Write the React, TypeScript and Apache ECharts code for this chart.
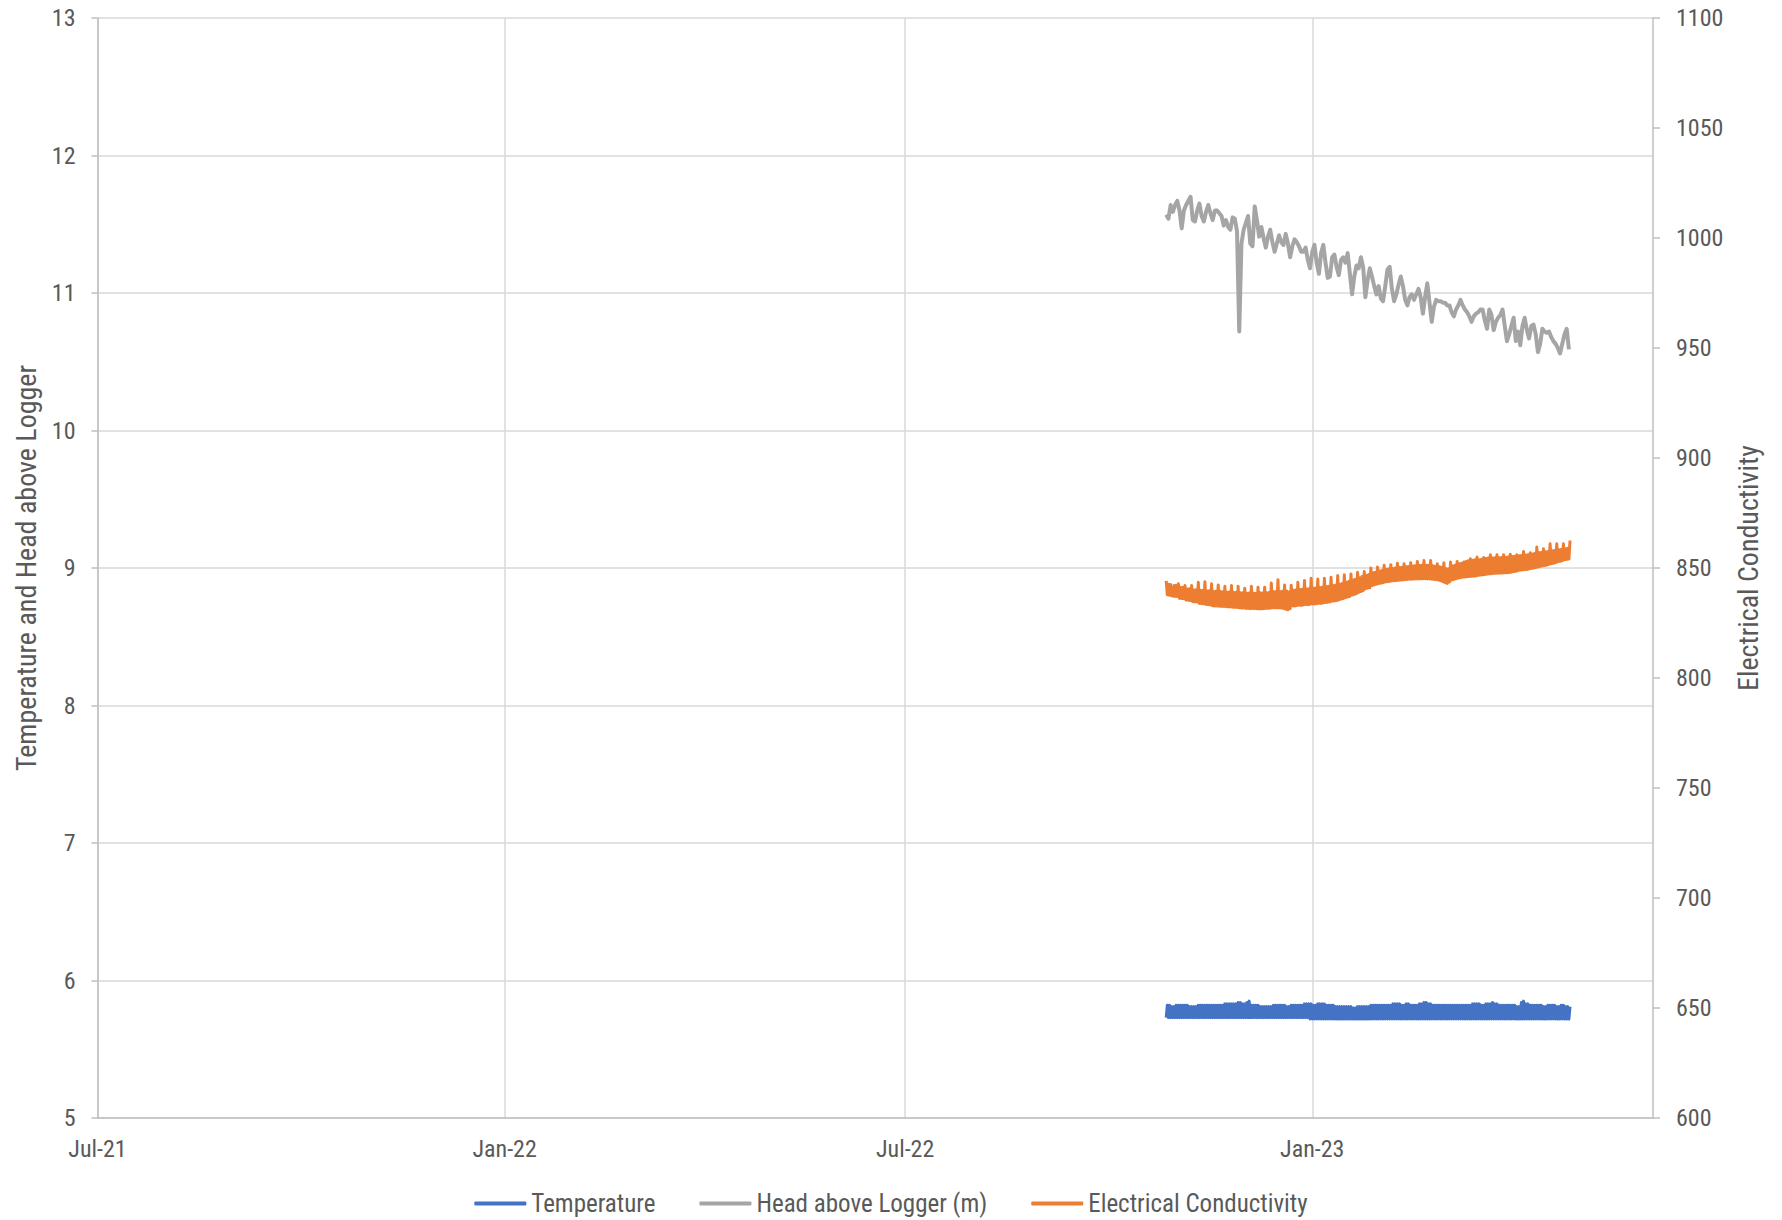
import React, { useEffect, useRef } from "react";
import * as echarts from "echarts";

// ---------- axis ranges & ticks ----------
const X_MIN = Date.UTC(2021, 6, 1);
const X_MAX = Date.UTC(2023, 5, 4);
const xTickDates = [Date.UTC(2021, 6, 1), Date.UTC(2022, 0, 1), Date.UTC(2022, 6, 1), Date.UTC(2023, 0, 1)];
const xTickLabels = ["Jul-21", "Jan-22", "Jul-22", "Jan-23"];

const leftMin = 5;
const leftMax = 13;
const leftInterval = 1;
const rightMin = 600;
const rightMax = 1100;
const rightInterval = 50;

const seriesNames = ["Temperature", "Head above Logger (m)", "Electrical Conductivity"];
const seriesColors = ["#4472C4", "#A5A5A5", "#ED7D31"];

// logger record starts 27 Oct 2022
const seriesStart = Date.UTC(2022, 9, 27);
const DAY = 86400000;
const HALF_DAY = DAY / 2;

// Head above logger (m), daily readings
const headValues = [
  11.57, 11.54, 11.64, 11.59, 11.64, 11.67, 11.6, 11.47, 11.6, 11.64,
  11.67, 11.7, 11.53, 11.52, 11.6, 11.65, 11.56, 11.52, 11.59, 11.64,
  11.58, 11.53, 11.6, 11.6, 11.58, 11.56, 11.49, 11.53, 11.48, 11.46,
  11.55, 11.54, 11.45, 10.72, 11.36, 11.46, 11.51, 11.56, 11.36, 11.34,
  11.63, 11.53, 11.41, 11.48, 11.4, 11.33, 11.41, 11.46, 11.37, 11.3,
  11.36, 11.42, 11.37, 11.35, 11.43, 11.36, 11.26, 11.34, 11.39, 11.37,
  11.34, 11.3, 11.3, 11.33, 11.24, 11.18, 11.3, 11.35, 11.22, 11.14,
  11.29, 11.35, 11.22, 11.11, 11.12, 11.26, 11.28, 11.19, 11.13, 11.24,
  11.26, 11.22, 11.29, 11.14, 10.99, 11.12, 11.2, 11.18, 11.26, 11.19,
  10.97, 11.09, 11.18, 11.12, 11.05, 10.99, 11.05, 10.96, 10.94, 11.05,
  11.17, 11.19, 11.03, 10.94, 10.99, 11.06, 11.12, 11.05, 10.95, 10.91,
  10.97, 10.99, 10.95, 10.99, 11.03, 10.97, 10.85, 10.97, 11.07, 10.93,
  10.79, 10.9, 10.95, 10.94, 10.94, 10.93, 10.93, 10.91, 10.91, 10.86,
  10.83, 10.88, 10.91, 10.95, 10.91, 10.88, 10.86, 10.83, 10.79, 10.83,
  10.85, 10.86, 10.88, 10.88, 10.8, 10.74, 10.88, 10.84, 10.73, 10.79,
  10.82, 10.84, 10.88, 10.76, 10.65, 10.7, 10.76, 10.82, 10.65, 10.72,
  10.62, 10.76, 10.82, 10.73, 10.67, 10.76, 10.77, 10.7, 10.57, 10.63,
  10.74, 10.72, 10.71, 10.72, 10.68, 10.65, 10.63, 10.6, 10.56, 10.63,
  10.7, 10.74, 10.59,
];

// Temperature, 12-hourly readings
const temperatureValues = [
  5.73, 5.82, 5.73, 5.82, 5.73, 5.81, 5.73, 5.81, 5.73, 5.82, 5.73, 5.82, 5.73, 5.82, 5.73, 5.82, 5.73, 5.82, 5.73, 5.82,
  5.73, 5.81, 5.73, 5.81, 5.73, 5.81, 5.73, 5.81, 5.73, 5.82, 5.73, 5.82, 5.73, 5.82, 5.73, 5.82, 5.73, 5.82, 5.73, 5.82,
  5.73, 5.82, 5.73, 5.82, 5.73, 5.82, 5.73, 5.82, 5.73, 5.82, 5.73, 5.82, 5.73, 5.83, 5.73, 5.83, 5.73, 5.83, 5.73, 5.83,
  5.73, 5.83, 5.73, 5.83, 5.73, 5.84, 5.73, 5.84, 5.73, 5.83, 5.73, 5.83, 5.73, 5.84, 5.73, 5.85, 5.73, 5.82, 5.73, 5.82,
  5.73, 5.82, 5.73, 5.82, 5.73, 5.81, 5.73, 5.81, 5.73, 5.81, 5.73, 5.81, 5.73, 5.81, 5.73, 5.81, 5.73, 5.82, 5.73, 5.82,
  5.73, 5.82, 5.73, 5.82, 5.73, 5.82, 5.73, 5.82, 5.73, 5.81, 5.73, 5.81, 5.73, 5.82, 5.73, 5.82, 5.73, 5.82, 5.73, 5.82,
  5.73, 5.82, 5.73, 5.82, 5.73, 5.83, 5.73, 5.83, 5.73, 5.83, 5.72, 5.83, 5.72, 5.82, 5.72, 5.82, 5.72, 5.83, 5.72, 5.83,
  5.72, 5.83, 5.72, 5.83, 5.72, 5.82, 5.72, 5.82, 5.72, 5.82, 5.72, 5.82, 5.72, 5.81, 5.72, 5.81, 5.72, 5.81, 5.72, 5.81,
  5.72, 5.81, 5.72, 5.81, 5.72, 5.81, 5.72, 5.81, 5.72, 5.8, 5.72, 5.8, 5.72, 5.81, 5.72, 5.81, 5.72, 5.81, 5.72, 5.81,
  5.72, 5.81, 5.72, 5.81, 5.72, 5.82, 5.72, 5.82, 5.72, 5.82, 5.72, 5.82, 5.72, 5.82, 5.72, 5.82, 5.72, 5.82, 5.72, 5.82,
  5.72, 5.82, 5.72, 5.82, 5.72, 5.83, 5.72, 5.83, 5.72, 5.83, 5.72, 5.83, 5.72, 5.82, 5.72, 5.82, 5.72, 5.83, 5.72, 5.83,
  5.72, 5.82, 5.72, 5.82, 5.72, 5.82, 5.72, 5.82, 5.72, 5.83, 5.72, 5.83, 5.72, 5.84, 5.72, 5.84, 5.72, 5.83, 5.72, 5.83,
  5.72, 5.82, 5.72, 5.82, 5.72, 5.82, 5.72, 5.82, 5.72, 5.82, 5.72, 5.82, 5.72, 5.82, 5.72, 5.82, 5.72, 5.82, 5.72, 5.82,
  5.72, 5.82, 5.72, 5.82, 5.72, 5.82, 5.72, 5.82, 5.72, 5.82, 5.72, 5.82, 5.72, 5.82, 5.72, 5.82, 5.72, 5.83, 5.72, 5.83,
  5.72, 5.83, 5.72, 5.83, 5.72, 5.82, 5.72, 5.82, 5.72, 5.83, 5.72, 5.83, 5.72, 5.83, 5.72, 5.84, 5.72, 5.83, 5.72, 5.83,
  5.72, 5.82, 5.72, 5.82, 5.72, 5.82, 5.72, 5.82, 5.72, 5.82, 5.72, 5.82, 5.72, 5.82, 5.72, 5.82, 5.72, 5.81, 5.72, 5.81,
  5.72, 5.84, 5.72, 5.85, 5.72, 5.83, 5.72, 5.83, 5.72, 5.82, 5.72, 5.82, 5.72, 5.82, 5.72, 5.82, 5.72, 5.82, 5.72, 5.82,
  5.72, 5.81, 5.72, 5.81, 5.72, 5.82, 5.72, 5.82, 5.72, 5.82, 5.72, 5.82, 5.72, 5.81, 5.72, 5.81, 5.72, 5.82, 5.72, 5.82,
  5.72, 5.81, 5.72, 5.81, 5.72, 5.81,
];

// Electrical conductivity, 12-hourly readings
const ecValues = [
  844.1, 837.8, 842.6, 837.6, 842.5, 837.5,
  837.2, 842.0, 837.1, 842.1, 837.0, 842.8,
  836.2, 841.1, 836.1, 841.2, 836.0, 842.0,
  835.4, 840.5, 835.3, 840.6, 835.2, 842.0,
  834.7, 840.0, 834.6, 840.1, 834.5, 843.5,
  833.9, 839.9, 833.8, 839.8, 833.7, 843.8,
  833.4, 839.6, 833.3, 839.7, 833.2, 842.8,
  832.8, 839.3, 832.7, 839.4, 832.7, 842.3,
  832.6, 839.3, 832.5, 839.2, 832.5, 841.7,
  832.4, 839.0, 832.3, 839.1, 832.3, 842.0,
  832.2, 839.0, 832.1, 838.9, 832.1, 841.7,
  831.9, 838.7, 831.8, 838.8, 831.8, 840.8,
  831.6, 838.5, 831.6, 838.6, 831.5, 841.7,
  831.6, 838.5, 831.5, 838.5, 831.5, 841.3,
  831.4, 838.7, 831.4, 838.6, 831.5, 841.3,
  831.6, 838.8, 831.6, 838.9, 831.7, 843.2,
  831.9, 839.3, 831.9, 839.2, 831.9, 844.7,
  831.9, 839.3, 831.8, 839.4, 831.6, 842.3,
  831.3, 839.6, 831.0, 839.1, 831.5, 842.2,
  832.8, 839.9, 832.7, 840.0, 832.9, 843.5,
  833.1, 840.2, 833.0, 840.3, 833.2, 844.3,
  833.4, 840.5, 833.3, 840.6, 833.5, 845.3,
  833.7, 840.8, 833.6, 840.9, 833.8, 845.0,
  833.9, 841.1, 833.9, 841.3, 834.1, 845.3,
  834.3, 841.6, 834.4, 841.7, 834.6, 845.8,
  834.9, 842.0, 835.0, 842.2, 835.2, 846.6,
  835.5, 842.6, 835.8, 842.9, 836.1, 846.9,
  836.5, 843.5, 836.8, 843.9, 837.1, 847.3,
  837.7, 844.6, 838.0, 844.9, 838.3, 848.1,
  838.9, 845.6, 839.3, 846.1, 839.7, 848.4,
  840.5, 846.6, 840.8, 847.0, 841.0, 850.0,
  842.0, 847.8, 842.3, 848.1, 842.6, 850.4,
  842.9, 848.6, 843.1, 848.9, 843.3, 851.2,
  843.6, 849.3, 843.8, 849.5, 843.9, 851.5,
  844.1, 849.8, 844.2, 850.0, 844.3, 852.2,
  844.4, 850.2, 844.5, 850.3, 844.6, 851.9,
  844.7, 850.6, 844.8, 850.7, 844.9, 852.4,
  844.9, 850.9, 845.0, 851.0, 845.1, 853.0,
  845.0, 851.2, 845.1, 851.3, 845.1, 853.4,
  845.1, 851.3, 845.0, 851.2, 845.0, 853.4,
  844.9, 851.0, 844.8, 850.8, 844.7, 851.9,
  844.5, 850.6, 844.2, 850.3, 843.8, 852.4,
  843.3, 849.7, 843.0, 849.5, 843.6, 852.7,
  844.5, 850.9, 844.8, 851.2, 845.1, 853.0,
  845.4, 851.9, 845.6, 852.2, 845.8, 852.7,
  845.9, 853.0, 846.0, 853.3, 846.1, 854.2,
  846.2, 853.5, 846.3, 853.7, 846.4, 855.0,
  846.6, 853.8, 846.8, 854.0, 846.9, 854.8,
  847.0, 854.3, 847.2, 854.5, 847.3, 856.0,
  847.4, 854.6, 847.5, 854.7, 847.6, 856.0,
  847.6, 854.7, 847.7, 854.8, 847.7, 856.0,
  847.8, 854.9, 847.8, 855.0, 847.9, 856.3,
  848.1, 855.2, 848.3, 855.3, 848.5, 856.0,
  848.8, 855.6, 849.0, 855.7, 849.1, 857.5,
  849.2, 855.9, 849.3, 856.0, 849.5, 856.9,
  849.8, 856.4, 849.9, 856.6, 850.2, 859.5,
  850.5, 857.0, 850.7, 857.1, 850.9, 858.7,
  851.1, 857.4, 851.3, 857.5, 851.6, 861.0,
  851.9, 857.8, 852.1, 858.0, 852.4, 861.0,
  852.8, 858.3, 853.0, 858.4, 853.3, 861.0,
  853.7, 858.8, 853.9, 859.0, 854.1, 862.5,
];

const toPoints = (vals: number[], step: number) => vals.map((v, i) => [seriesStart + i * step, v]);

const FONT = "'Liberation Sans Narrow', 'Arial Narrow', 'Roboto Condensed', 'DejaVu Sans Condensed', sans-serif";
const TEXT = "#595959";
const AXIS_LINE = "#bfbfbf";
const GRID_LINE = "#d9d9d9";

export default function App() {
  const ref = useRef<HTMLDivElement>(null);

  useEffect(() => {
    if (!ref.current) return;
    const chart = echarts.init(ref.current, undefined, { renderer: "svg" });
    const labelStyle = { color: TEXT, fontSize: 24, fontFamily: FONT };
    chart.setOption({
      animation: false,
      backgroundColor: "#ffffff",
      textStyle: { fontFamily: FONT },
      grid: { left: 97.5, right: 129, top: 18, bottom: 102, containLabel: false },
      legend: {
        top: 1186,
        left: "center",
        icon: "roundRect",
        itemWidth: 52,
        itemHeight: 4,
        itemGap: 44,
        textStyle: { color: TEXT, fontSize: 25, fontFamily: FONT },
        data: seriesNames,
      },
      xAxis: {
        type: "value",
        min: X_MIN,
        max: X_MAX,
        axisLine: { show: true, lineStyle: { color: AXIS_LINE, width: 1.5 } },
        axisTick: { show: false, customValues: xTickDates },
        axisLabel: {
          ...labelStyle,
          margin: 19,
          customValues: xTickDates,
          formatter: (v: number) => {
            const i = xTickDates.findIndex((d) => Math.abs(d - v) < DAY);
            return i >= 0 ? xTickLabels[i] : "";
          },
        },
        splitLine: { show: true, lineStyle: { color: GRID_LINE, width: 1.5 } },
      },
      yAxis: [
        {
          type: "value",
          position: "left",
          min: leftMin,
          max: leftMax,
          interval: leftInterval,
          name: "Temperature and Head above Logger",
          nameLocation: "middle",
          nameRotate: 90,
          nameGap: 56,
          nameTextStyle: { color: TEXT, fontSize: 28, fontFamily: FONT },
          axisLine: { show: true, lineStyle: { color: AXIS_LINE, width: 1.5 } },
          axisTick: { show: true, length: 6, lineStyle: { color: AXIS_LINE, width: 1.5 } },
          axisLabel: { ...labelStyle, margin: 22, formatter: (v: number) => String(v) },
          splitLine: { show: true, lineStyle: { color: GRID_LINE, width: 1.5 } },
        },
        {
          type: "value",
          position: "right",
          min: rightMin,
          max: rightMax,
          interval: rightInterval,
          name: "Electrical Conductivity",
          nameLocation: "middle",
          nameRotate: 90,
          nameGap: 76,
          nameTextStyle: { color: TEXT, fontSize: 28, fontFamily: FONT },
          axisLine: { show: true, lineStyle: { color: AXIS_LINE, width: 1.5 } },
          axisTick: { show: true, length: 7, lineStyle: { color: AXIS_LINE, width: 1.5 } },
          axisLabel: { ...labelStyle, margin: 23, formatter: (v: number) => String(v) },
          splitLine: { show: false },
        },
      ],
      series: [
        {
          name: seriesNames[0],
          type: "line",
          yAxisIndex: 0,
          data: toPoints(temperatureValues, HALF_DAY),
          symbol: "none",
          lineStyle: { color: seriesColors[0], width: 3, join: "round" },
          itemStyle: { color: seriesColors[0] },
        },
        {
          name: seriesNames[1],
          type: "line",
          yAxisIndex: 0,
          data: toPoints(headValues, DAY),
          symbol: "none",
          lineStyle: { color: seriesColors[1], width: 4, join: "round" },
          itemStyle: { color: seriesColors[1] },
        },
        {
          name: seriesNames[2],
          type: "line",
          yAxisIndex: 1,
          data: toPoints(ecValues, HALF_DAY),
          symbol: "none",
          lineStyle: { color: seriesColors[2], width: 3, join: "round" },
          itemStyle: { color: seriesColors[2] },
        },
      ],
    });
    return () => chart.dispose();
  }, []);

  return (
    <div
      ref={ref}
      style={{ position: "fixed", left: 0, top: 0, width: 1782, height: 1220, background: "#ffffff" }}
    />
  );
}
